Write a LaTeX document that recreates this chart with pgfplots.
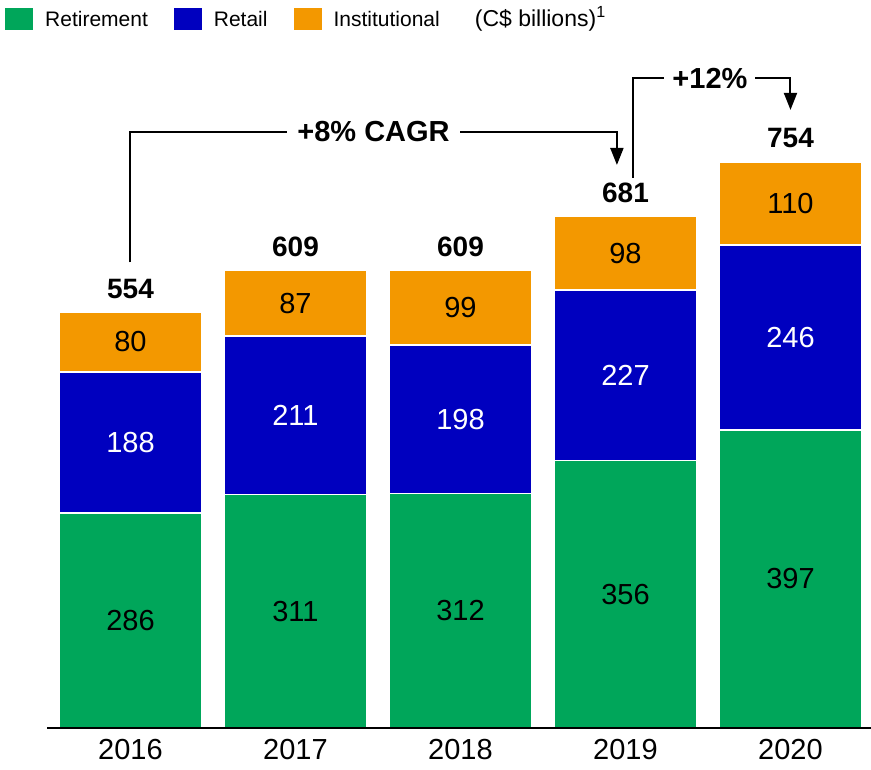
\documentclass[border=0pt]{standalone}
\usepackage{fontspec}
\setmainfont{Liberation Sans}
\usepackage{pgfplots}
\pgfplotsset{compat=1.18}
\usetikzlibrary{arrows.meta}
\definecolor{cgreen}{HTML}{00A65A}
\definecolor{cblue}{HTML}{0000BF}
\definecolor{corange}{HTML}{F39800}
\begin{document}
\begin{tikzpicture}
\pgfplotsset{base/.style={x=165pt, y=0.751pt, xmin=-0.506, xmax=4.488, ymin=0, ymax=969, at={(0,0)}, anchor=south west, clip=false}}
\begin{axis}[base, xmax=4.6, ybar stacked, bar width=143pt, axis on top,
  axis x line=bottom, axis y line=none, x axis line style={-, line width=2.5pt},
  xtick={0,1,2,3,4}, xticklabels={2016,2017,2018,2019,2020}, major tick length=0pt,
  xticklabel style={font=\fontsize{29}{34}\selectfont, yshift=-8pt}]
\addplot[fill=cgreen, draw=white, line width=1.5pt] coordinates {(0,286) (1,311) (2,312) (3,356) (4,397)};
\addplot[fill=cblue, draw=white, line width=1.5pt] coordinates {(0,188) (1,211) (2,198) (3,227) (4,246)};
\addplot[fill=corange, draw=white, line width=1.5pt] coordinates {(0,80) (1,87) (2,99) (3,98) (4,110)};
\end{axis}
\begin{axis}[base, hide axis,
  legend image code/.code={\path[#1,draw=none] (0pt,-11pt) rectangle (28pt,11pt);},
  legend style={at={(axis description cs:-0.051,0.9894)}, anchor=north west, draw=none, fill=none, inner sep=0pt,
    font=\fontsize{21}{25}\selectfont, nodes={inner sep=0pt},
    /tikz/every odd column/.append style={column sep=12pt},
    /tikz/every even column/.append style={column sep=26pt}},
  legend columns=-1]
\addlegendimage{fill=cgreen}\addlegendentry{Retirement}
\addlegendimage{fill=cblue}\addlegendentry{Retail}
\addlegendimage{fill=corange}\addlegendentry{Institutional}
\addplot[forget plot, only marks, mark=none, nodes near coords, point meta=explicit symbolic,
  every node near coord/.append style={anchor=center, font=\fontsize{29}{34}\selectfont, text=black}]
  coordinates {(0,143)[286] (1,155.5)[311] (2,156)[312] (3,178)[356] (4,198.5)[397]};
\addplot[forget plot, only marks, mark=none, nodes near coords, point meta=explicit symbolic,
  every node near coord/.append style={anchor=center, font=\fontsize{29}{34}\selectfont, text=white}]
  coordinates {(0,380)[188] (1,416.5)[211] (2,411)[198] (3,469.5)[227] (4,520)[246]};
\addplot[forget plot, only marks, mark=none, nodes near coords, point meta=explicit symbolic,
  every node near coord/.append style={anchor=center, font=\fontsize{29}{34}\selectfont, text=black}]
  coordinates {(0,514)[80] (1,565.5)[87] (2,559.5)[99] (3,632)[98] (4,698)[110]};
\addplot[forget plot, only marks, mark=none, nodes near coords, point meta=explicit symbolic,
  every node near coord/.append style={anchor=center, font=\bfseries\fontsize{28}{34}\selectfont, text=black}]
  coordinates {(0,585)[554] (1,640)[609] (2,640)[609] (3,712)[681] (4,785)[754]};
\draw[line width=2pt, line join=miter, -{Triangle[width=13pt,length=17pt]}] (axis cs:0,620) -- (axis cs:0,793.6) -- (axis cs:2.948,793.6) -- (axis cs:2.948,749.7);
\node[fill=white, inner xsep=10pt, inner ysep=2pt, font=\bfseries\fontsize{29}{34}\selectfont] at (axis cs:1.473,793.6) {+8\% CAGR};
\draw[line width=2pt, line join=miter, -{Triangle[width=13pt,length=17pt]}] (axis cs:3.045,732.4) -- (axis cs:3.045,865.5) -- (axis cs:4,865.5) -- (axis cs:4,823);
\node[fill=white, inner xsep=8pt, inner ysep=2pt, font=\bfseries\fontsize{29}{34}\selectfont] at (axis cs:3.512,865.5) {+12\%};
\node[anchor=west, inner sep=0pt, font=\fontsize{23}{27}\selectfont] at (axis description cs:0.519,0.974) {(C\$ billions)\textsuperscript{1}};
\end{axis}
\pgfresetboundingbox
\useasboundingbox (-47pt,-42pt) rectangle (824pt,728pt);
\end{tikzpicture}
\end{document}
